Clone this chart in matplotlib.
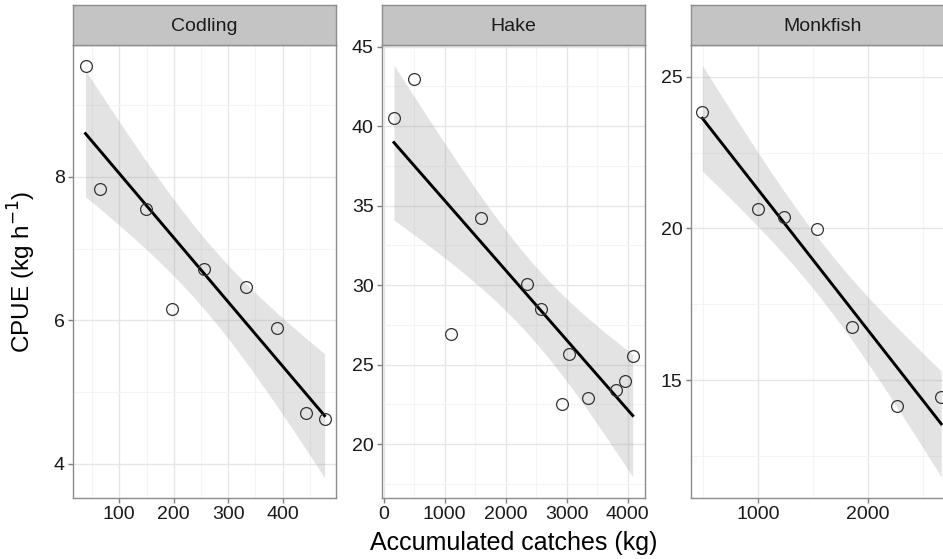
import matplotlib

matplotlib.use("Agg")
import matplotlib.pyplot as plt  # noqa: E402
import numpy as np  # noqa: E402
from matplotlib.ticker import MultipleLocator  # noqa: E402

plt.rcParams["font.family"] = ["Liberation Sans", "DejaVu Sans"]

# dados (capturas acumuladas x CPUE)
species = ["Codling", "Hake", "Monkfish"]

codling_catch = [38, 65, 149, 196, 256, 333, 389, 443, 477]
codling_cpue = [9.55, 7.83, 7.55, 6.15, 6.71, 6.46, 5.89, 4.71, 4.62]

hake_catch = [170, 491, 1103, 1588, 2347, 2581, 2925, 3044, 3355, 3809, 3951, 4082]
hake_cpue = [40.52, 42.97, 26.93, 34.23, 30.08, 28.52, 22.53, 25.69, 22.92, 23.43, 24.0, 25.53]

monk_catch = [494, 996, 1239, 1539, 1857, 2266, 2666]
monk_cpue = [23.84, 20.63, 20.38, 19.97, 16.76, 14.14, 14.45]

catches = [codling_catch, hake_catch, monk_catch]
cpues = [codling_cpue, hake_cpue, monk_cpue]

# eixos (limites e ticks de cada painel, escalas livres)
xlims = [(15, 498), (-26, 4283), (391, 2782)]
ylims = [(3.52, 9.84), (16.62, 45.1), (11.11, 26.05)]
xmajor = [100, 1000, 1000]
ymajor = [2, 5, 5]

# quantis t (0.975) por graus de liberdade
T975 = {5: 2.5706, 7: 2.3646, 10: 2.2281}


def lm_band(x, y, n_pts=100):
    """Reta de minimos quadrados + intervalo de confianca de 95% (como geom_smooth lm)."""
    x = np.asarray(x, dtype=float)
    y = np.asarray(y, dtype=float)
    n = len(x)
    b, a = np.polyfit(x, y, 1)
    resid = y - (a + b * x)
    s = np.sqrt(np.sum(resid ** 2) / (n - 2))
    sxx = np.sum((x - x.mean()) ** 2)
    xs = np.linspace(x.min(), x.max(), n_pts)
    fit = a + b * xs
    se = s * np.sqrt(1.0 / n + (xs - x.mean()) ** 2 / sxx)
    t = T975[n - 2]
    return xs, fit, fit - t * se, fit + t * se


W, H = 943, 559
fig = plt.figure(figsize=(W / 100, H / 100), dpi=100)

panel_left = [73, 382, 691]
panel_w = 263
top, bottom, strip_top = 45, 498, 5

border = "#8c8c8c"
for i, name in enumerate(species):
    l = panel_left[i] / W
    ax = fig.add_axes([l, 1 - bottom / H, panel_w / W, (bottom - top) / H])
    ax.set_facecolor("white")
    ax.set_axisbelow(True)

    xs, fit, lo, hi = lm_band(catches[i], cpues[i])
    ax.fill_between(xs, lo, hi, color="#999999", alpha=0.27, linewidth=0, zorder=2)
    ax.plot(xs, fit, color="black", linewidth=2.1, zorder=3)
    ax.plot(catches[i], cpues[i], linestyle="none", marker="o", markersize=8.5,
            markerfacecolor="none", markeredgecolor="#333333", markeredgewidth=0.9,
            zorder=4, clip_on=False)

    ax.set_xlim(*xlims[i])
    ax.set_ylim(*ylims[i])
    ax.xaxis.set_major_locator(MultipleLocator(xmajor[i]))
    ax.xaxis.set_minor_locator(MultipleLocator(xmajor[i] / 2))
    ax.yaxis.set_major_locator(MultipleLocator(ymajor[i]))
    ax.yaxis.set_minor_locator(MultipleLocator(ymajor[i] / 2))
    ax.grid(True, which="major", color="#e6e6e6", linewidth=1.0)
    ax.grid(True, which="minor", color="#f4f4f4", linewidth=0.8)
    ax.tick_params(which="major", length=3.5, width=1, color="#7f7f7f",
                   labelsize=14, labelcolor="#1a1a1a", pad=2.5)
    ax.tick_params(which="minor", length=0)
    for sp in ax.spines.values():
        sp.set_color(border)
        sp.set_linewidth(1.0)

    sax = fig.add_axes([l, 1 - top / H, panel_w / W, (top - strip_top) / H])
    sax.set_facecolor("#c4c4c4")
    sax.set_xticks([])
    sax.set_yticks([])
    for sp in sax.spines.values():
        sp.set_color(border)
        sp.set_linewidth(1.0)
    sax.text(0.5, 0.47, name, ha="center", va="center", fontsize=14,
             color="#1a1a1a", transform=sax.transAxes)

fig.text(513.5 / W, 1 - 550 / H, "Accumulated catches (kg)", ha="center",
         va="baseline", fontsize=18, color="black")
fig.text(22 / W, 1 - 271.5 / H, "CPUE (kg h$^{-1}$)", ha="center", va="center",
         rotation=90, fontsize=17.5, color="black")

fig.savefig("out.png", dpi=100)
plt.close(fig)
